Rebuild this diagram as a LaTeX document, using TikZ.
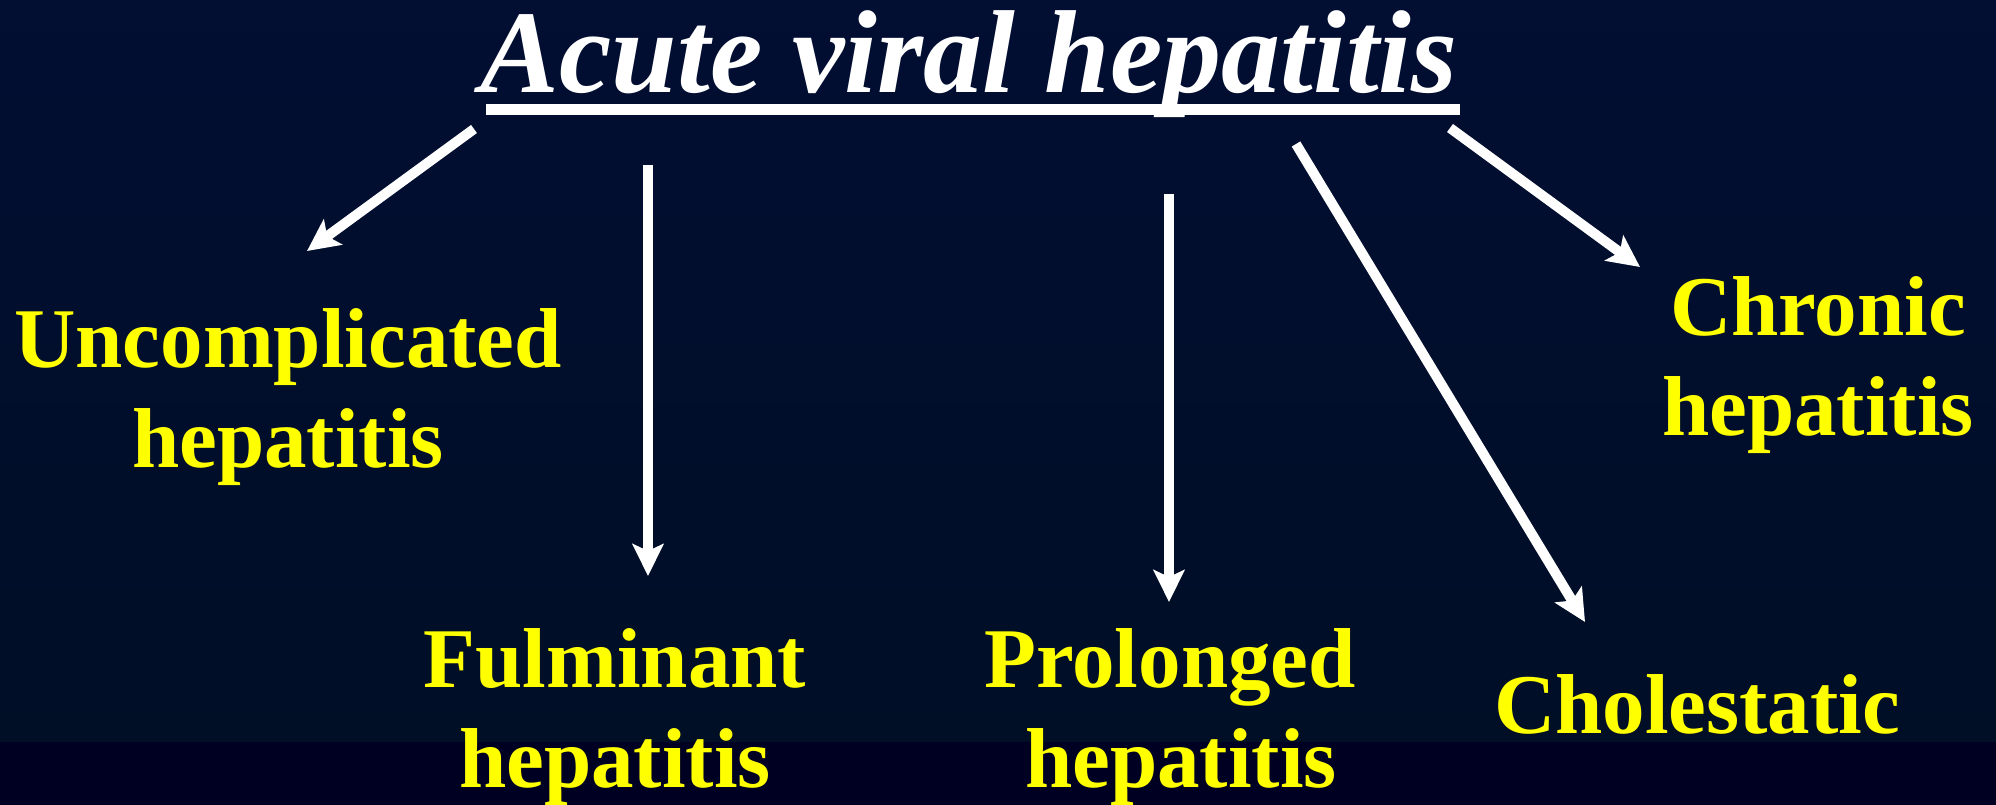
\documentclass[tikz,border=0pt]{standalone}
\usepackage{fontspec}
\setmainfont{Liberation Serif}
\usetikzlibrary{arrows.meta}
\definecolor{bgtop}{RGB}{2,14,50}
\definecolor{bgmid}{RGB}{0,16,62}
\definecolor{bgbot}{RGB}{0,14,38}
\definecolor{bgstrip}{RGB}{0,0,34}
\definecolor{labyellow}{RGB}{255,255,0}
\tikzset{
  label/.style={text=labyellow, font=\fontsize{85}{100}\selectfont\bfseries, align=center, inner sep=0pt, anchor=base},
  titletext/.style={text=white, font=\fontsize{118}{130}\selectfont\bfseries\itshape, inner sep=0pt, anchor=base},
  arr/.style={draw=white, line width=10pt, -{Stealth[length=32pt, width=31pt, inset=7pt]}}
}
\begin{document}
\begin{tikzpicture}[x=1pt,y=-1pt]
\useasboundingbox (0,0) rectangle (1996,805);
\shade[top color=bgtop, middle color=bgmid, bottom color=bgbot] (0,0) rectangle (1996,742);
\fill[bgstrip] (0,742) rectangle (1996,805);
% title
\node[titletext] (title) at (969,93) {Acute viral hepatitis};
\fill[white] (486,104) rectangle (1460,115);
% labels (anchor base = baseline of last line)
\node[label] (unc) at (288,467) {Uncomplicated\\hepatitis};
\node[label] (ful) at (615,787) {Fulminant\\hepatitis};
\node[label] (pro) at (1170,787) {Prolonged\\\hspace*{22pt}hepatitis};
\node[label] (cho) at (1697,733) {Cholestatic};
\node[label] (chr) at (1818,435) {Chronic\\hepatitis};
% arrow coordinates
\coordinate (s1) at (474,129); \coordinate (e1) at (307,251);
\coordinate (s2) at (648,165); \coordinate (e2) at (648,576);
\coordinate (s3) at (1169,194); \coordinate (e3) at (1169,602);
\coordinate (s4) at (1296,144); \coordinate (e4) at (1585,622);
\coordinate (s5) at (1450,128); \coordinate (e5) at (1640,267);
\draw[arr] (s1) -- (e1);
\draw[arr] (s2) -- (e2);
\draw[arr] (s3) -- (e3);
\draw[arr] (s4) -- (e4);
\draw[arr] (s5) -- (e5);
\end{tikzpicture}
\end{document}
